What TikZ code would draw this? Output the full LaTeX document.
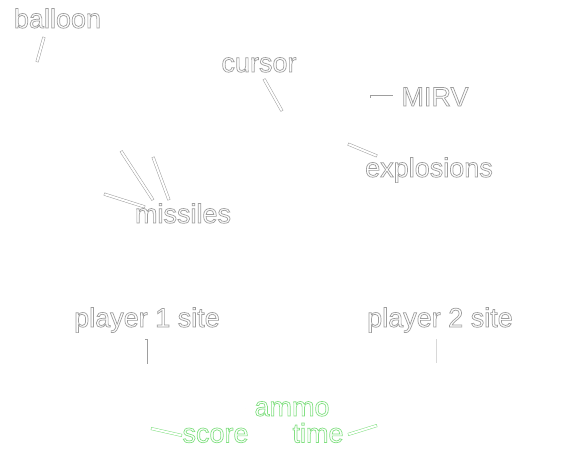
\documentclass[tikz,border=0pt]{standalone}
\usepackage{fontspec}
\setmainfont{Liberation Sans}
\definecolor{edge}{gray}{0.62}
\definecolor{gedge}{RGB}{130,225,130}
\newcommand{\otext}[2]{\special{pdf:code q 2 Tr 0.7 w #1}#2\special{pdf:code Q}}
\newcommand{\wt}[1]{\otext{0.62 G}{#1}}
\newcommand{\gt}[1]{\otext{0.51 0.88 0.51 RG}{#1}}
\tikzset{
  lbl/.style={anchor=base, inner sep=0pt, text=white, font=\fontsize{27}{30}\selectfont},
  lead/.style={line width=3pt, draw=edge, line cap=butt,
    postaction={draw=white, line width=2pt, shorten >=0.5pt, shorten <=0.5pt}},
  faintlead/.style={line width=2.6pt, draw=edge!40,
    postaction={draw=white, line width=2pt, shorten >=0.3pt, shorten <=0.3pt}},
  glead/.style={line width=2.6pt, draw=gedge!45,
    postaction={draw=white, line width=2pt, shorten >=0.3pt, shorten <=0.3pt}},
  gtiltlead/.style={line width=3pt, draw=gedge,
    postaction={draw=white, line width=2pt, shorten >=0.5pt, shorten <=0.5pt}},
}
\begin{document}
\begin{tikzpicture}[x=1pt,y=-1pt]
\useasboundingbox[fill=white] (0,0) rectangle (584,448);
% labels
\node[lbl] (balloon) at (57.5,28) {\wt{balloon}};
\node[lbl] (cursor) at (259,72) {\wt{cursor}};
\node[lbl] (mirv) at (435,106) {\wt{MIRV}};
\node[lbl] (explosions) at (429,177) {\wt{explosions}};
\node[lbl] (missiles) at (183,223) {\wt{missiles}};
\node[lbl] (p1) at (147,327) {\wt{player 1 site}};
\node[lbl] (p2) at (440,327) {\wt{player 2 site}};
\node[lbl] (ammo) at (292,416) {\gt{ammo}};
\node[lbl] (score) at (215.5,442.5) {\gt{score}};
\node[lbl] (time) at (318,442.5) {\gt{time}};
% leader line ends
\coordinate (b1) at (44,37);   \coordinate (b2) at (37,62);
\coordinate (c1) at (264,79);  \coordinate (c2) at (282,111);
\coordinate (m1) at (393,96.5);  \coordinate (m2) at (370,96.5);
\coordinate (e1) at (377,156); \coordinate (e2) at (348,144);
\coordinate (s1) at (153,200); \coordinate (s2) at (121,151);
\coordinate (s3) at (169,200); \coordinate (s4) at (153,157);
\coordinate (s5) at (145,207); \coordinate (s6) at (104,194);
\coordinate (p1a) at (146,339); \coordinate (p1b) at (146,364);
\coordinate (p2a) at (437.5,339); \coordinate (p2b) at (437.5,363);
\coordinate (a1) at (245,408); \coordinate (a2) at (172,408);
\coordinate (a3) at (337,408); \coordinate (a4) at (410,408);
\coordinate (sc1) at (182,435.5); \coordinate (sc2) at (151,428.5);
\coordinate (t1) at (348,434.5); \coordinate (t2) at (377,425.5);
% leader lines
\draw[lead] (b1) -- (b2);
\draw[lead] (c1) -- (c2);
\draw[lead] (m1) -- (m2);
\draw[lead] (e1) -- (e2);
\draw[lead] (s1) -- (s2);
\draw[lead] (s3) -- (s4);
\draw[lead] (s5) -- (s6);
\draw[lead] (p1a) -- (p1b);
\draw[faintlead] (p2a) -- (p2b);
\draw[glead] (a1) -- (a2);
\draw[glead] (a3) -- (a4);
\draw[gtiltlead] (sc1) -- (sc2);
\draw[gtiltlead] (t1) -- (t2);
\end{tikzpicture}
\end{document}
